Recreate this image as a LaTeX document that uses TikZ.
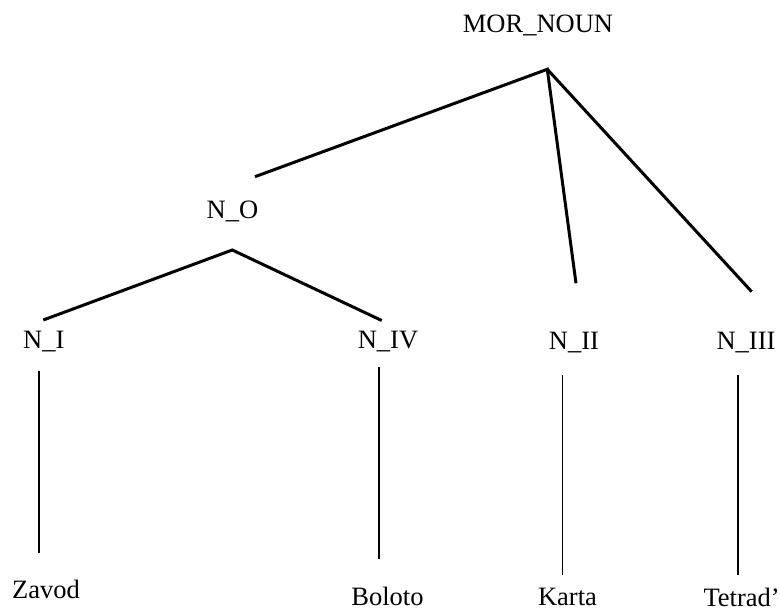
\documentclass[tikz,border=0pt]{standalone}
\usepackage{fontspec}
\setmainfont{Liberation Serif}
\usetikzlibrary{positioning}

\tikzset{
	cat/.style={anchor=base, inner sep=0pt, font=\fontsize{26.5}{30}\selectfont},
	branch/.style={line width=3pt},
	stem/.style={line width=1.8pt}
}

\begin{document}
\begin{tikzpicture}[x=1pt, y=-1pt]
\useasboundingbox (0,0) rectangle (780,610);

% categories
\node[cat] (noun) at (538,33) {MOR\_NOUN};
\node[cat] (no) at (232.5,218.3) {N\_O};
\node[cat] (ni) at (43.8,348.3) {N\_I};
\node[cat] (niv) at (388,348.3) {N\_IV};
\node[cat] (nii) at (574,349.3) {N\_II};
\node[cat] (niii) at (746,349) {N\_III};

% words
\node[cat] (zavod) at (46,598) {Zavod};
\node[cat] (boloto) at (387.5,605) {Boloto};
\node[cat] (karta) at (567.5,605) {Karta};
\node[cat, anchor=base west] (tetrad) at (703.3,606) {Tetrad'};

\coordinate (fork) at ([shift={(9.3,36.3)}]noun.base);
\coordinate (split) at ([shift={(-0.2,31.7)}]no.base);

\draw[branch] ([shift={(22.5,-41.6)}]no.base) -- (fork)
	-- ([shift={(2,-66)}]nii.base);
\draw[branch] (fork) -- ([shift={(5.7,-57.3)}]niii.base);
\draw[branch] ([shift={(-0.5,-28.3)}]ni.base) -- (split)
	-- ([shift={(-6.3,-27.8)}]niv.base);

\draw[stem] ([shift={(-4.5,22.4)}]ni.base) -- ([shift={(-6.7,-45)}]zavod.base);
\draw[stem] ([shift={(-9,18.4)}]niv.base) -- ([shift={(-8.5,-46)}]boloto.base);
\draw[stem] ([shift={(-11.5,25.7)}]nii.base) -- ([shift={(-5,-30)}]karta.base);
\draw[stem] ([shift={(-7.7,26)}]niii.base) -- ([shift={(35,-31)}]tetrad.base west);

\end{tikzpicture}
\end{document}
